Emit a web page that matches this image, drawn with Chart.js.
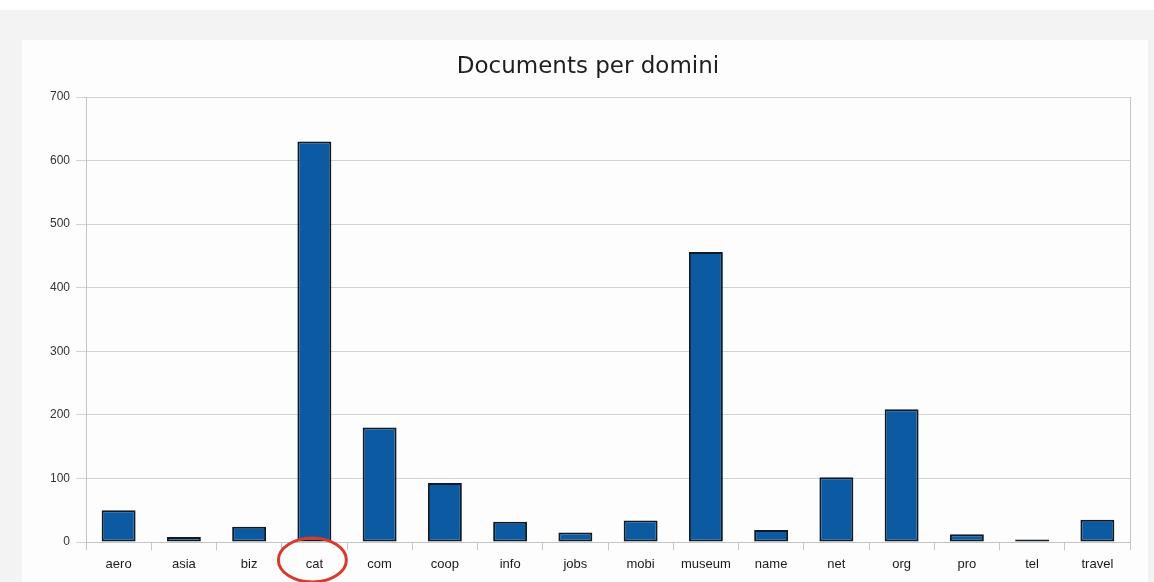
<!DOCTYPE html>
<html>
<head>
<meta charset="utf-8">
<script src="https://cdn.jsdelivr.net/npm/chart.js@4/dist/chart.umd.min.js"></script>
<style>
  html, body { margin: 0; padding: 0; background: #ffffff; }
  #wrap { width: 1154px; height: 582px; position: relative; }
</style>
</head>
<body>
<div id="wrap"><canvas id="c" width="1154" height="582"></canvas></div>
<script>
const categories = ['aero','asia','biz','cat','com','coop','info','jobs','mobi','museum','name','net','org','pro','tel','travel'];
const documents = [50, 8, 24, 630, 180, 93, 32, 15, 34, 456, 19, 102, 209, 12, 4, 35];
const yTicks = [0, 100, 200, 300, 400, 500, 600, 700];
const titleText = 'Documents per domini';
const highlighted = 'cat';

const backgroundPlugin = {
  id: 'bgPanel',
  beforeDraw(chart) {
    const ctx = chart.ctx;
    ctx.save();
    ctx.fillStyle = '#ffffff';
    ctx.fillRect(0, 0, chart.width, chart.height);
    ctx.fillStyle = '#f4f3f4';
    ctx.fillRect(0, 10, chart.width, chart.height - 10);
    ctx.fillStyle = '#fdfdfd';
    ctx.fillRect(22, 40, 1126, chart.height - 40);
    ctx.restore();
  },
  afterDatasetsDraw(chart) {
    const ctx = chart.ctx;
    const a = chart.chartArea;
    ctx.save();
    ctx.strokeStyle = '#c4c4c4';
    ctx.lineWidth = 1;
    ctx.beginPath();
    ctx.moveTo(Math.round(a.right) + 0.5, a.top);
    ctx.lineTo(Math.round(a.right) + 0.5, a.bottom + 8);
    ctx.stroke();
    ctx.restore();
  },
  afterDraw(chart) {
    const ctx = chart.ctx;
    const xs = chart.scales.x;
    const idx = categories.indexOf(highlighted);
    const cx = xs.getPixelForValue(idx) - 2;
    const cy = chart.chartArea.bottom + 18;
    ctx.save();
    ctx.strokeStyle = '#d83a2e';
    ctx.lineWidth = 3;
    ctx.beginPath();
    ctx.ellipse(cx, cy, 34, 22, 0, 0, Math.PI * 2);
    ctx.stroke();
    ctx.restore();
  }
};

new Chart(document.getElementById('c'), {
  type: 'bar',
  data: {
    labels: categories,
    datasets: [{
      label: 'Documents',
      data: documents,
      backgroundColor: '#0b5aa2',
      borderColor: '#0f1a26',
      borderWidth: 2,
      borderSkipped: false,
      barPercentage: 0.52,
      categoryPercentage: 1.0
    }]
  },
  options: {
    responsive: false,
    animation: false,
    devicePixelRatio: 1,
    layout: { padding: { left: 46, right: 24, top: 0, bottom: 0 } },
    plugins: {
      legend: { display: false },
      tooltip: { enabled: false },
      title: {
        display: true,
        text: titleText,
        color: '#1e1e1e',
        font: { family: 'DejaVu Sans', size: 23, weight: 'normal', lineHeight: 1.2 },
        padding: { top: 53, bottom: 16.4 }
      }
    },
    scales: {
      x: {
        grid: {
          offset: true,
          drawOnChartArea: false,
          drawTicks: true,
          tickLength: 8,
          color: '#c4c4c4'
        },
        border: { display: true, color: '#c4c4c4', width: 1 },
        ticks: {
          color: '#1a1a1a',
          font: { family: 'Liberation Sans', size: 13 },
          padding: 7,
          maxRotation: 0,
          autoSkip: false
        },
        afterFit(scale) { scale.height = 40; }
      },
      y: {
        min: 0,
        max: 700,
        afterBuildTicks(scale) { scale.ticks = yTicks.map(v => ({ value: v })); },
        grid: {
          color: '#d2d2d2',
          drawTicks: true,
          tickLength: 10
        },
        border: { display: true, color: '#c4c4c4', width: 1 },
        ticks: {
          color: '#333333',
          font: { family: 'Liberation Sans', size: 12 },
          padding: 6
        },
        afterFit(scale) { scale.width = 40; }
      }
    }
  },
  plugins: [backgroundPlugin]
});
</script>
</body>
</html>
